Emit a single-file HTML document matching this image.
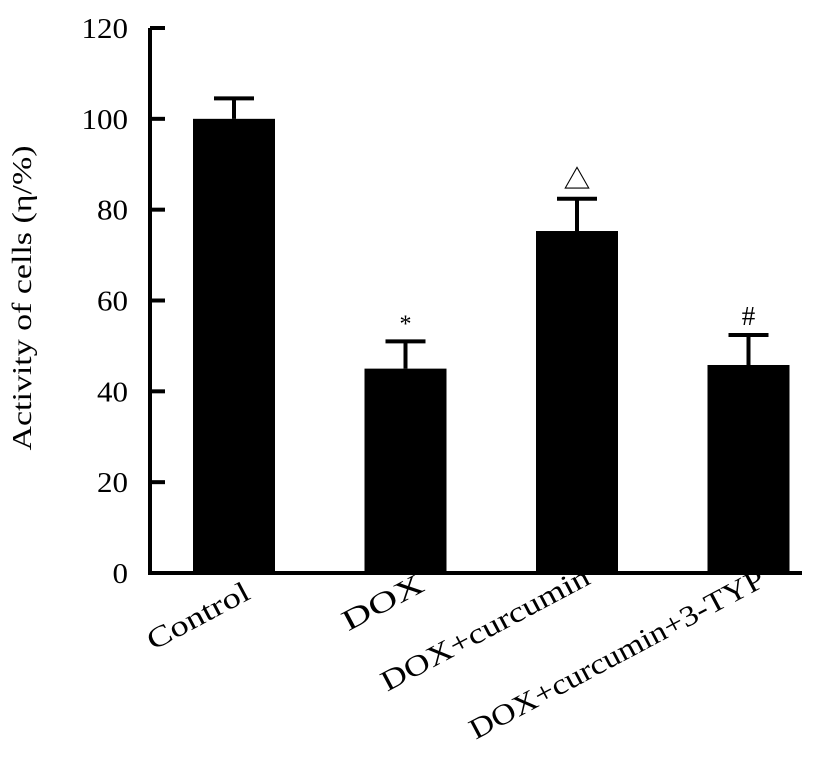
<!DOCTYPE html>
<html><head><meta charset="utf-8"><style>
html,body{margin:0;padding:0;background:#fff;}
svg{display:block;font-family:"Liberation Serif","Noto Serif CJK SC",serif;}
</style></head><body>
<svg id="chart" width="826" height="762" viewBox="0 0 826 762" xmlns="http://www.w3.org/2000/svg"></svg>
<script>
const categories=["Control","DOX","DOX+curcumin","DOX+curcumin+3-TYP"];
const values=[100,45,75.3,45.8];
const errors=[4.5,6,7.1,6.6];
const marks=["","*","△","#"];
const yTicks=[0,20,40,60,80,100,120];
const NS="http://www.w3.org/2000/svg";
const svg=document.getElementById('chart');
const y0=573,yTop=28,yMax=120;
const y=v=>y0-(v/yMax)*(y0-yTop);
const bandStart=148.25,bandW=171.5,barW=82;
const xc=i=>bandStart+bandW*(i+0.5);
const labEnd=[[252,598],[426,590],[592,583],[767,585]];
const labLen=[112,88,232,330];
function mk(tag,at){const e=document.createElementNS(NS,tag);for(const k in at)e.setAttribute(k,at[k]);svg.appendChild(e);return e;}
categories.forEach((c,i)=>{
  const cx=xc(i);
  const b=mk('rect',{x:cx-barW/2,y:y(values[i]),width:barW,height:y0-y(values[i]),fill:'#000'});
  
  
  const top=y(values[i]+errors[i]);
  const el=mk('path',{d:`M${cx},${y(values[i])}V${top}M${cx-20},${top}H${cx+20}`,stroke:'#000','stroke-width':4,fill:'none'});
  
  
  if(marks[i]){
    const t=mk('text',{x:cx,y:top-10,'text-anchor':'middle','font-size':marks[i]==='*'?24:27});
    t.textContent=marks[i];
    
    
  }
  const [lx,ly]=labEnd[i];
  const lab=mk('text',{x:lx,y:ly,'text-anchor':'end','font-size':29,textLength:labLen[i],lengthAdjust:'spacingAndGlyphs',transform:`rotate(-28 ${lx} ${ly})`});
  lab.textContent=c;
  
  
});
const ax=mk('path',{d:`M150,${yTop}V${y0}H802`,stroke:'#000','stroke-width':4,fill:'none'});


yTicks.forEach(v=>{
  const t=mk('line',{x1:150,x2:165,y1:y(v),y2:y(v),stroke:'#000','stroke-width':4});
  
  
  const s=String(v);
  const l=mk('text',{x:128,y:y(v)+10,'text-anchor':'end','font-size':29,textLength:s.length*15.5,lengthAdjust:'spacingAndGlyphs'});
  l.textContent=s;
  
  
});
const yt=mk('text',{x:0,y:0,'text-anchor':'middle','font-size':27,textLength:305,lengthAdjust:'spacingAndGlyphs',transform:'translate(31,298) rotate(-90)'});
yt.textContent='Activity of cells (η/%)';


</script>
</body></html>
